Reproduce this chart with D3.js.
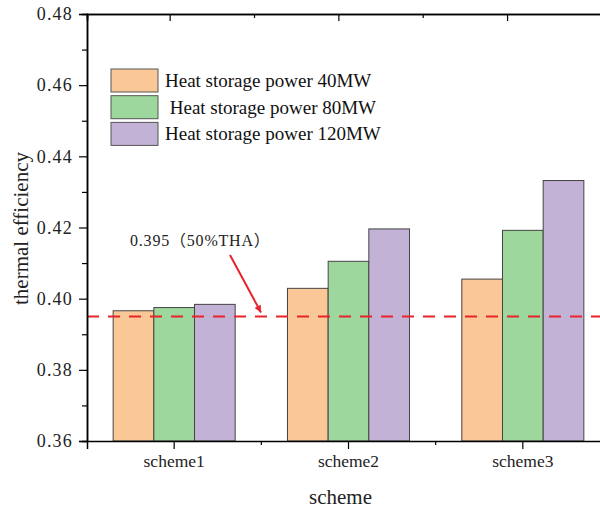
<!DOCTYPE html>
<html>
<head>
<meta charset="utf-8">
<script src="https://cdn.jsdelivr.net/npm/d3@7"></script>
<style>
  body { margin: 0; background: #fff; }
  svg { display: block; font-family: "Liberation Serif", "Times New Roman", serif; }
</style>
</head>
<body>
<div class="viz"></div>
<script>
// chart size
var w = 600;
var h = 510;

// data
var schemes = ['scheme1', 'scheme2', 'scheme3'];
var seriesNames = ['Heat storage power 40MW', ' Heat storage power 80MW', 'Heat storage power 120MW'];
var power40 = [0.3966, 0.4029, 0.4055];
var power80 = [0.3975, 0.4105, 0.4192];
var power120 = [0.3984, 0.4196, 0.4332];
var yTicks = [0.36, 0.38, 0.40, 0.42, 0.44, 0.46, 0.48];
var yMinor = [0.37, 0.39, 0.41, 0.43, 0.45, 0.47];
var refValue = 0.395;
var refLabel = '0.395（50%THA）';

var colors = ['#fac896', '#9dd79d', '#c2b2d6'];
var series = [power40, power80, power120];

// plot area (window.top is taken, so p-prefixed names)
var pLeft = 87, pTop = 14, pRight = 610, pBottom = 441;

var svg = d3.select('.viz')
            .append('svg')
            .attr('width', w)
            .attr('height', h);

var y = d3.scaleLinear()
          .domain([0.36, 0.48])
          .range([pBottom, pTop]);

var x0 = d3.scaleBand()
           .domain(schemes)
           .range([pLeft, pRight])
           .paddingInner(0.3)
           .paddingOuter(0.15);

var x1 = d3.scaleBand()
           .domain(d3.range(series.length))
           .range([0, x0.bandwidth()]);

// bars
var groups = svg.append('g')
                .selectAll('g')
                .data(schemes)
                .enter().append('g')
                .attr('transform', function(d) { return 'translate(' + x0(d) + ',0)'; });

groups.selectAll('rect')
      .data(function(d, i) { return series.map(function(s, j) { return {k: j, v: s[i]}; }); })
      .enter().append('rect')
      .attr('x', function(d) { return x1(d.k); })
      .attr('y', function(d) { return y(d.v); })
      .attr('width', x1.bandwidth())
      .attr('height', function(d) { return pBottom - y(d.v); })
      .attr('fill', function(d) { return colors[d.k]; })
      .attr('stroke', '#444')
      .attr('stroke-width', 1);

// reference line
svg.append('line')
   .attr('x1', pLeft)
   .attr('x2', w)
   .attr('y1', y(refValue))
   .attr('y2', y(refValue))
   .attr('stroke', '#e8232a')
   .attr('stroke-width', 2)
   .attr('stroke-dasharray', '12,9');

// arrow + label
svg.append('defs').append('marker')
   .attr('id', 'arr')
   .attr('viewBox', '0 0 10 10')
   .attr('refX', 10).attr('refY', 5)
   .attr('markerWidth', 11).attr('markerHeight', 7)
   .attr('markerUnits', 'userSpaceOnUse')
   .attr('orient', 'auto')
   .append('path')
   .attr('d', 'M0,0L10,5L0,10z')
   .attr('fill', '#e8232a');

svg.append('line')
   .attr('x1', 230).attr('y1', 255)
   .attr('x2', 261).attr('y2', y(refValue) - 4)
   .attr('stroke', '#e8232a')
   .attr('stroke-width', 2)
   .attr('marker-end', 'url(#arr)');

svg.append('text')
   .attr('x', 130)
   .attr('y', 246)
   .attr('font-size', '16px')
   .attr('letter-spacing', '0.8px')
   .attr('fill', '#222')
   .style('font-family', '"Liberation Serif", "Noto Sans CJK SC", serif')
   .text(refLabel);

// y axis
var yAxis = svg.append('g')
   .attr('transform', 'translate(' + pLeft + ',0)')
   .call(d3.axisLeft(y).tickValues(yTicks).tickSize(8).tickPadding(6).tickFormat(d3.format('.2f')));
yAxis.selectAll('text')
     .attr('font-size', '18px')
     .attr('letter-spacing', '1.2px')
     .attr('fill', '#222')
     .style('font-family', '"Liberation Serif", serif');

svg.append('g')
   .attr('transform', 'translate(' + pLeft + ',0)')
   .call(d3.axisLeft(y).tickValues(yMinor).tickSize(5).tickFormat(''));

// x axis
var xAxis = svg.append('g')
   .attr('transform', 'translate(0,' + pBottom + ')')
   .call(d3.axisBottom(x0).tickSize(8).tickPadding(6));
xAxis.selectAll('text')
     .attr('font-size', '17.5px')
     .attr('fill', '#222')
     .style('font-family', '"Liberation Serif", serif');

// minor ticks at category boundaries
svg.append('g')
   .selectAll('line')
   .data(schemes.slice(1))
   .enter().append('line')
   .attr('x1', function(d) { return x0(d) - x0.step() * x0.paddingInner() / 2; })
   .attr('x2', function(d) { return x0(d) - x0.step() * x0.paddingInner() / 2; })
   .attr('y1', pBottom)
   .attr('y2', pBottom + 4)
   .attr('stroke', '#000')
   .attr('stroke-width', 1.2);

// top axis (mirror, inward ticks)
var xTop = d3.scaleLinear().domain([0.51, 0.51 + (pRight - pLeft) / 168.7]).range([pLeft, pRight]);
svg.append('g')
   .attr('transform', 'translate(0,' + pTop + ')')
   .call(d3.axisBottom(xTop).tickValues([1, 2, 3]).tickSize(7).tickFormat(''));
svg.append('g')
   .attr('transform', 'translate(0,' + pTop + ')')
   .call(d3.axisBottom(xTop).tickValues([1.5, 2.5]).tickSize(4).tickFormat(''));

svg.selectAll('.domain').attr('stroke', '#000').attr('stroke-width', 1.5);
svg.selectAll('.tick line').attr('stroke', '#000').attr('stroke-width', 1.2);

// axis titles
svg.append('text')
   .attr('transform', 'translate(28,' + ((pTop + pBottom) / 2 + 1) + ') rotate(-90)')
   .attr('text-anchor', 'middle')
   .attr('font-size', '21px')
   .attr('fill', '#222')
   .text('thermal efficiency');

svg.append('text')
   .attr('x', (pLeft + pRight) / 2 - 8)
   .attr('y', 504)
   .attr('text-anchor', 'middle')
   .attr('font-size', '21px')
   .attr('fill', '#222')
   .text('scheme');

// legend
var legend = svg.append('g')
                .selectAll('g')
                .data(seriesNames)
                .enter().append('g')
                .attr('transform', function(d, i) { return 'translate(111,' + (69 + i * 26.7) + ')'; });

legend.append('rect')
      .attr('width', 47)
      .attr('height', 23)
      .attr('fill', function(d, i) { return colors[i]; })
      .attr('stroke', '#555')
      .attr('stroke-width', 1);

legend.append('text')
      .attr('x', 54)
      .attr('y', 18)
      .attr('font-size', '19px')
      .attr('fill', '#111')
      .attr('xml:space', 'preserve')
      .style('white-space', 'pre')
      .text(function(d) { return d; });
</script>
</body>
</html>
